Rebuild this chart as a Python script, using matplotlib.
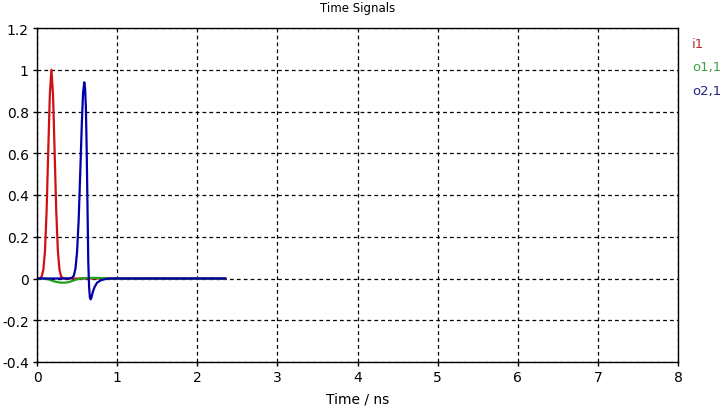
import matplotlib
matplotlib.use("Agg")
import matplotlib.pyplot as plt

# ---- data ----
t_i1 = [0.0, 0.04, 0.06, 0.08, 0.10, 0.12, 0.14, 0.16, 0.18, 0.20, 0.22, 0.24, 0.26, 0.28, 0.30, 0.32, 0.34, 0.5, 1.0, 1.5, 2.0, 2.35]
v_i1 = [0.0, 0.0, 0.011, 0.044, 0.135, 0.325, 0.607, 0.88, 1.0, 0.88, 0.607, 0.325, 0.135, 0.044, 0.011, 0.002, 0.0, 0.0, 0.0, 0.0, 0.0, 0.0]

t_o11 = [0.0, 0.10, 0.15, 0.20, 0.25, 0.30, 0.35, 0.40, 0.45, 0.50, 0.55, 0.60, 0.70, 0.80, 0.90, 1.0, 1.5, 2.0, 2.35]
v_o11 = [0.0, 0.0, -0.005, -0.012, -0.017, -0.020, -0.020, -0.017, -0.010, -0.004, 0.0, 0.002, 0.003, 0.002, 0.0, 0.0, 0.0, 0.0, 0.0]

t_o21 = [0.0, 0.40, 0.44, 0.46, 0.48, 0.50, 0.52, 0.54, 0.56, 0.575, 0.59, 0.60, 0.61, 0.62, 0.63, 0.64, 0.65, 0.66, 0.67, 0.68, 0.70, 0.72, 0.75, 0.80, 0.85, 0.90, 1.0, 1.5, 2.0, 2.35]
v_o21 = [0.0, 0.0, 0.004, 0.014, 0.047, 0.127, 0.28, 0.51, 0.75, 0.89, 0.94, 0.91, 0.82, 0.62, 0.35, 0.08, -0.04, -0.09, -0.10, -0.09, -0.06, -0.04, -0.02, -0.008, -0.003, 0.0, 0.0, 0.0, 0.0, 0.0]

series_names = ["i1", "o1,1", "o2,1"]
line_colors = ["#d01010", "#20a020", "#0000a8"]
text_colors = ["#b03030", "#40a040", "#202080"]

x_ticks = [0, 1, 2, 3, 4, 5, 6, 7, 8]
y_ticks = [-0.4, -0.2, 0, 0.2, 0.4, 0.6, 0.8, 1, 1.2]
y_tick_labels = ["-0.4", "-0.2", "0", "0.2", "0.4", "0.6", "0.8", "1", "1.2"]

plt.rcParams['font.family'] = ['DejaVu Sans']
fig = plt.figure(figsize=(7.23, 4.14), dpi=100)
W, H = 723, 414
ax = fig.add_axes([37 / W, 1 - 363 / H, (678 - 37) / W, (363 - 29) / H])

for t, v, c in zip([t_i1, t_o11, t_o21], [v_i1, v_o11, v_o21], line_colors):
    ax.plot(t, v, color=c, lw=1.6, solid_joinstyle='round')

ax.set_xlim(0, 8)
ax.set_ylim(-0.4, 1.2)
ax.set_xticks(x_ticks)
ax.set_xticklabels([str(x) for x in x_ticks])
ax.set_yticks(y_ticks)
ax.set_yticklabels(y_tick_labels)
ax.tick_params(direction='out', length=3, width=1, labelsize=10, pad=3, colors='black')
ax.grid(True, color='black', linestyle=(0, (3, 2.5)), linewidth=0.9)
for s in ax.spines.values():
    s.set_linewidth(1.0)
    s.set_color('black')

ax.set_title("Time Signals", fontsize=8.5, pad=12)
ax.set_xlabel("Time / ns", fontsize=10, labelpad=5)

for i, (name, tc) in enumerate(zip(series_names, text_colors)):
    fig.text(692 / W, 1 - (44 + 23.5 * i) / H, name, color=tc, fontsize=9.5, va='center', ha='left')

fig.savefig("out.png", dpi=100)
